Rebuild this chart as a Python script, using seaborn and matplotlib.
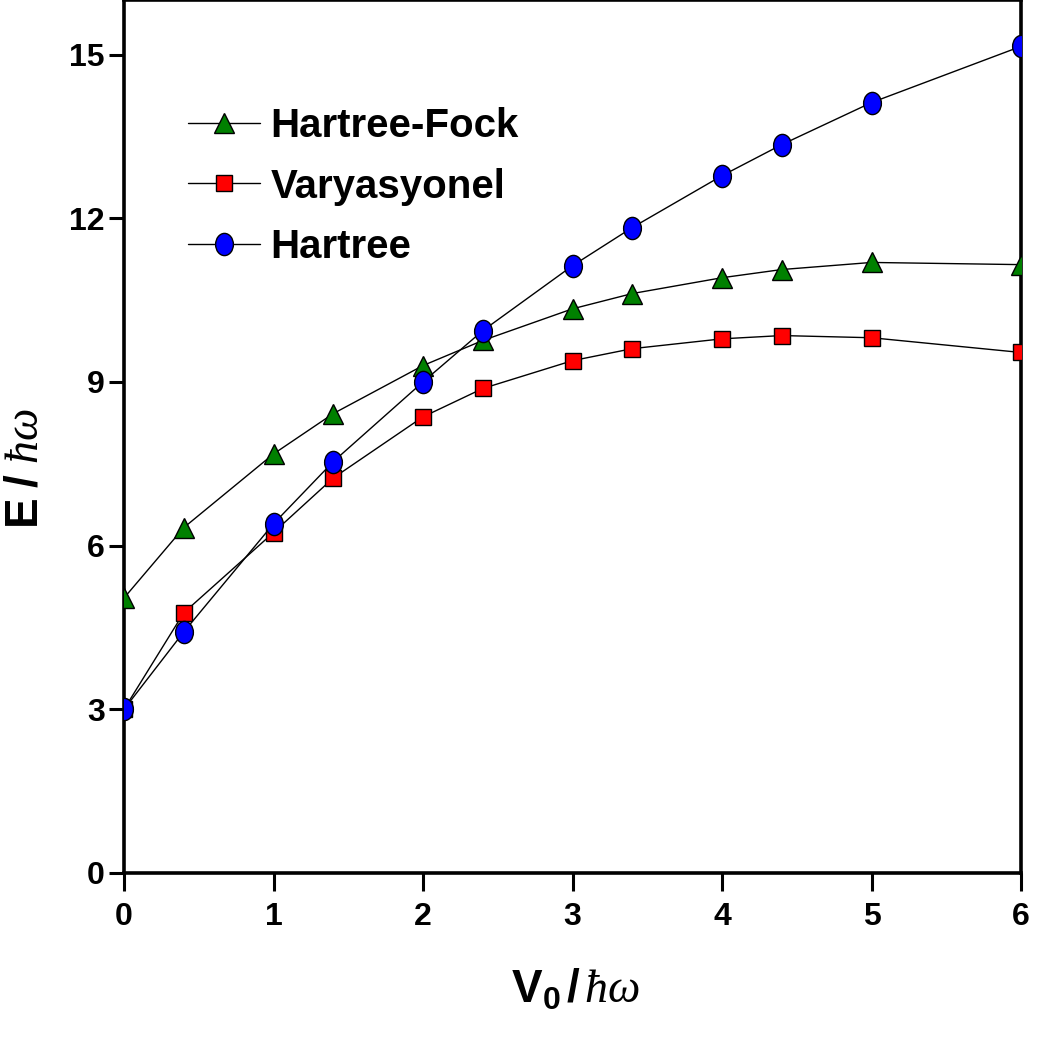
import numpy as np
import pandas as pd
import matplotlib
matplotlib.use("Agg")
import matplotlib.pyplot as plt
import seaborn as sns
from matplotlib.path import Path
from matplotlib.lines import Line2D

# ---- data ----
v0 = [0, 0.4, 1, 1.4, 2, 2.4, 3, 3.4, 4, 4.4, 5, 6]
hartree_fock = [5.04, 6.33, 7.68, 8.42, 9.30, 9.76, 10.34, 10.62, 10.91, 11.06, 11.19, 11.15]
varyasyonel = [3.00, 4.77, 6.24, 7.24, 8.36, 8.88, 9.39, 9.61, 9.79, 9.85, 9.81, 9.54]
hartree = [3.00, 4.42, 6.40, 7.54, 9.00, 9.94, 11.13, 11.83, 12.78, 13.35, 14.12, 15.15]
series_names = ["Hartree-Fock", "Varyasyonel", "Hartree"]
x_ticks = [0, 1, 2, 3, 4, 5, 6]
y_ticks = [0, 3, 6, 9, 12, 15]

df = pd.concat([
    pd.DataFrame({"V0": v0, "E": hartree_fock, "method": series_names[0]}),
    pd.DataFrame({"V0": v0, "E": varyasyonel, "method": series_names[1]}),
    pd.DataFrame({"V0": v0, "E": hartree, "method": series_names[2]}),
])

sns.set_theme(style="ticks")
plt.rcParams["font.family"] = ["Liberation Sans", "DejaVu Sans"]
plt.rcParams["font.weight"] = "bold"
plt.rcParams["text.color"] = "black"
plt.rcParams["axes.labelcolor"] = "black"
plt.rcParams["xtick.color"] = "black"
plt.rcParams["ytick.color"] = "black"
plt.rcParams["mathtext.fontset"] = "custom"
plt.rcParams["mathtext.rm"] = "Liberation Sans:bold"
plt.rcParams["mathtext.bf"] = "Liberation Sans:bold"
plt.rcParams["mathtext.it"] = "Liberation Serif:italic:normal"

# ellipse marker (slightly taller than wide)
circ = Path.unit_circle()
ellipse = Path(circ.vertices * np.array([0.8, 1.0]), circ.codes)

styles = {
    "Hartree-Fock": dict(marker="^", mfc="#008000", ms=15),
    "Varyasyonel": dict(marker="s", mfc="#FF0000", ms=11.5),
    "Hartree": dict(marker=ellipse, mfc="#0000FF", ms=16),
}

fig = plt.figure(figsize=(10.46, 10.39), dpi=100)
ax = fig.add_axes([124 / 1046, 166 / 1039, (1021 - 124) / 1046, (1039 - 166) / 1039])

handles = []
for name in series_names:
    st = styles[name]
    sub = df[df["method"] == name]
    sns.lineplot(data=sub, x="V0", y="E", ax=ax, color="black", linewidth=1.0,
                 marker=st["marker"], markersize=st["ms"],
                 markerfacecolor=st["mfc"], markeredgecolor="black",
                 markeredgewidth=1.0, legend=False, zorder=3)
    handles.append(Line2D([], [], color="black", linewidth=1.0, marker=st["marker"],
                          markersize=st["ms"], markerfacecolor=st["mfc"],
                          markeredgecolor="black", markeredgewidth=1.0))

ax.set_xlim(0, 6)
ax.set_ylim(0, 16)
ax.set_xticks(x_ticks)
ax.set_yticks(y_ticks)
ax.tick_params(axis="x", direction="out", length=13, width=2.2, labelsize=23, pad=8)
ax.tick_params(axis="y", direction="out", length=11, width=2.2, labelsize=23, pad=3)
for lbl in ax.get_xticklabels() + ax.get_yticklabels():
    lbl.set_fontweight("bold")
for sp in ax.spines.values():
    sp.set_linewidth(2.6)
    sp.set_color("black")

ax.set_xlabel(r"$\mathbf{V_0}$" + r"$\mathbf{\,/\,}\mathit{\hbar\omega}$", fontsize=33)
ax.set_ylabel(r"$\mathbf{E\ /\ }\mathit{\hbar\omega}$", fontsize=33)
ax.xaxis.set_label_coords(0.504, -0.108)
ax.yaxis.set_label_coords(-0.085, 0.463)

leg = ax.legend(handles, series_names, loc="upper left", bbox_to_anchor=(0.071, 0.877),
                frameon=False, fontsize=29, handlelength=1.8, handletextpad=0.25,
                labelspacing=0.55, borderaxespad=0, borderpad=0)
for t in leg.get_texts():
    t.set_fontweight("bold")

fig.savefig("out.png", dpi=100)
